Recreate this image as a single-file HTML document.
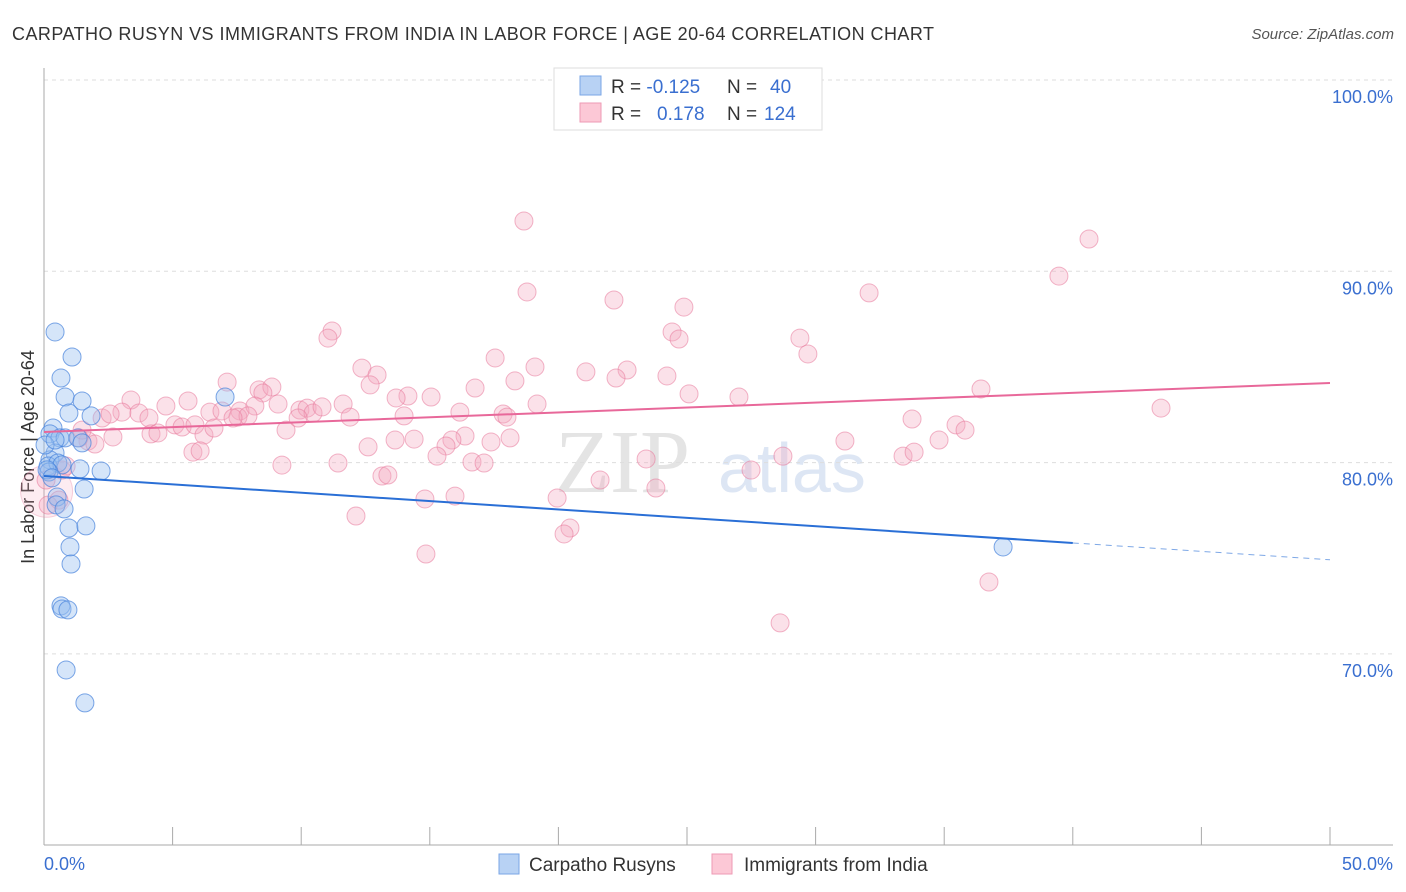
<!DOCTYPE html>
<html><head><meta charset="utf-8"><style>
body{margin:0;background:#fff;font-family:"Liberation Sans",sans-serif;}
svg{display:block}
</style></head><body>
<svg id="chart" width="1406" height="892">
<text x="12" y="40" font-size="18" fill="#333" textLength="922" lengthAdjust="spacing">CARPATHO RUSYN VS IMMIGRANTS FROM INDIA IN LABOR FORCE | AGE 20-64 CORRELATION CHART</text>
<text x="1394" y="39" font-size="15" fill="#555" font-style="italic" text-anchor="end">Source: ZipAtlas.com</text>
<g><text x="555" y="492" font-size="90" fill="#e4e4e4" font-family="Liberation Serif,serif">ZIP</text><text x="718" y="492" font-size="70" fill="#dde6f4">atlas</text></g>
<g id="grid"></g><g id="axes"></g><g id="marks"></g>
<g>
<rect x="554" y="68" width="268" height="62" fill="#fff" stroke="#ddd"/>
<rect x="580" y="76" width="21" height="19" fill="#b8d2f4" stroke="#7aa6e6"/>
<rect x="580" y="103" width="21" height="19" fill="#fcc8d6" stroke="#ee9ab4"/>
<text x="611" y="93" font-size="19" fill="#333">R = <tspan fill="#3a6fd0">-0.125</tspan><tspan x="727">N = </tspan><tspan x="770" fill="#3a6fd0">40</tspan></text>
<text x="611" y="120" font-size="19" fill="#333">R = <tspan x="657" fill="#3a6fd0">0.178</tspan><tspan x="727">N = </tspan><tspan x="764" fill="#3a6fd0">124</tspan></text>
</g>
<g>
<rect x="499" y="854" width="20" height="20" fill="#b8d2f4" stroke="#7aa6e6"/>
<text x="529" y="871" font-size="19" fill="#333">Carpatho Rusyns</text>
<rect x="712" y="854" width="20" height="20" fill="#fcc8d6" stroke="#ee9ab4"/>
<text x="744" y="871" font-size="19" fill="#333">Immigrants from India</text>
</g>
</svg>
<script>
const yTicks=[100,90,80,70];
const yTickLabels=["100.0%","90.0%","80.0%","70.0%"];
const xTicks=[0,5,10,15,20,25,30,35,40,45,50];
const blueX=[0.43,1.09,0.66,0.82,1.48,0.97,1.83,0.35,0.23,0.62,0.82,1.32,1.48,0.43,0.23,0.16,0.54,0.70,1.40,2.22,0.19,1.56,0.51,0.47,0.78,0.97,1.63,1.01,1.05,0.66,0.70,0.93,0.86,1.59,7.04,37.29,0.04,0.12,0.31,0.43];
const blueY=[86.83,85.52,84.42,83.43,83.22,82.59,82.44,81.81,81.50,81.29,81.29,81.29,81.03,80.50,80.14,79.82,79.98,79.88,79.67,79.56,79.51,78.62,78.20,77.79,77.58,76.58,76.69,75.59,74.70,72.51,72.35,72.30,69.16,67.44,83.43,75.59,80.92,79.62,79.20,81.18];
const pinkX=[18.66,40.63,39.46,18.78,22.16,24.88,32.08,11.20,11.04,24.42,24.69,29.39,29.70,17.54,19.09,12.36,12.95,21.07,22.67,22.24,24.22,18.31,16.76,12.68,7.12,8.36,8.86,8.51,36.43,25.08,27.02,15.05,14.15,13.69,43.43,19.17,3.38,4.74,5.60,6.45,6.92,7.62,8.20,9.10,9.95,10.23,10.46,10.81,11.63,11.90,14.00,16.17,17.85,18.00,2.26,3.03,3.69,4.08,5.09,5.37,5.87,7.54,7.93,9.41,9.88,33.75,35.46,35.81,4.16,4.43,2.68,1.71,1.36,1.98,6.22,6.61,13.65,14.39,16.37,15.86,17.38,18.12,12.60,15.63,15.28,31.14,34.80,5.79,6.07,33.40,33.83,28.73,23.41,16.64,17.11,9.25,11.43,27.49,13.14,13.37,14.81,15.98,19.95,23.79,12.13,20.45,20.22,14.85,36.74,28.62,0.70,0.58,0.16,0.86,1.48,0.08,2.57,7.35,21.62];
const pinkY=[92.63,91.69,89.75,88.92,88.50,88.13,88.87,86.88,86.51,86.83,86.46,86.51,85.68,85.47,85.00,84.94,84.58,84.74,84.84,84.42,84.53,84.27,83.90,84.06,84.21,83.80,83.95,83.64,83.85,83.59,83.43,83.43,83.48,83.38,82.85,83.06,83.27,82.96,83.22,82.64,82.70,82.70,82.96,83.06,82.75,82.85,82.59,82.91,83.06,82.38,82.44,82.64,82.54,82.38,82.33,82.64,82.59,82.33,81.97,81.86,81.97,82.38,82.44,81.70,82.33,82.28,81.97,81.70,81.50,81.55,81.34,81.13,81.29,80.97,81.44,81.81,81.18,81.23,81.39,81.18,81.08,81.29,80.82,80.87,80.34,81.13,81.18,80.55,80.61,80.34,80.55,80.34,80.19,80.03,79.98,79.87,79.98,79.61,79.30,79.35,78.10,78.25,78.15,78.67,77.21,76.58,76.27,75.22,73.76,71.62,79.61,78.04,77.78,79.82,81.70,79.09,82.54,82.33,79.09];
const blueTrend=[[0,79.30],[40,75.80],[50,74.92]];
const pinkTrend=[[0,81.60],[50,84.16]];
const NS="http://www.w3.org/2000/svg";
const X=v=>44+v*(1286/50);
const Y=v=>80+(100-v)*19.13;
function mk(tag,attrs,parent){const e=document.createElementNS(NS,tag);for(const k in attrs)e.setAttribute(k,attrs[k]);parent.appendChild(e);return e;}
const grid=document.getElementById('grid'),axes=document.getElementById('axes'),marks=document.getElementById('marks');
yTicks.forEach((t,i)=>{
 const l=mk('line',{x1:44,x2:1393,y1:Y(t),y2:Y(t),stroke:'#ddd','stroke-dasharray':'4,4'},grid);
 
 
 const tx=mk('text',{x:1393,y:Y(t)+23,'font-size':18,fill:'#3a6fd0','text-anchor':'end'},axes);
 tx.textContent=yTickLabels[i];
 
 
});
const al=mk('line',{x1:44,x2:44,y1:68,y2:845,stroke:'#aaa'},axes);


const bl=mk('line',{x1:44,x2:1393,y1:845,y2:845,stroke:'#aaa'},axes);


xTicks.forEach(t=>{const l=mk('line',{x1:X(t),x2:X(t),y1:827,y2:845,stroke:'#aaa'},axes);
 
 });
[[0,"0.0%",'start',44],[50,"50.0%",'end',1393]].forEach(a=>{const t=mk('text',{x:a[3],y:870,'font-size':18,fill:'#3a6fd0','text-anchor':a[2]},axes);t.textContent=a[1];
 
 });
const yt=mk('text',{x:0,y:0,'font-size':18,fill:'#333','text-anchor':'middle',transform:'translate(34,457) rotate(-90)'},axes);
yt.textContent='In Labor Force | Age 20-64';


const big=mk('circle',{cx:X(0.1),cy:Y(78.5),r:26,fill:'rgba(244,169,191,0.22)',stroke:'rgba(232,127,160,0.35)'},marks);


pinkX.forEach((x,i)=>{const c=mk('circle',{cx:X(x),cy:Y(pinkY[i]),r:9,fill:'rgba(244,169,191,0.35)',stroke:'rgba(232,120,155,0.55)','stroke-width':1},marks);
 
 });
blueX.forEach((x,i)=>{const c=mk('circle',{cx:X(x),cy:Y(blueY[i]),r:9,fill:'rgba(150,190,240,0.4)',stroke:'rgba(70,130,220,0.7)','stroke-width':1},marks);
 
 });
const b1=mk('line',{x1:X(blueTrend[0][0]),y1:Y(blueTrend[0][1]),x2:X(blueTrend[1][0]),y2:Y(blueTrend[1][1]),stroke:'#2a6fd6','stroke-width':2},marks);


const b2=mk('line',{x1:X(blueTrend[1][0]),y1:Y(blueTrend[1][1]),x2:X(blueTrend[2][0]),y2:Y(blueTrend[2][1]),stroke:'#2a6fd6','stroke-width':1,'stroke-dasharray':'6,5',opacity:0.6},marks);


const p1=mk('line',{x1:X(pinkTrend[0][0]),y1:Y(pinkTrend[0][1]),x2:X(pinkTrend[1][0]),y2:Y(pinkTrend[1][1]),stroke:'#e8689a','stroke-width':2},marks);


</script>
</body></html>
